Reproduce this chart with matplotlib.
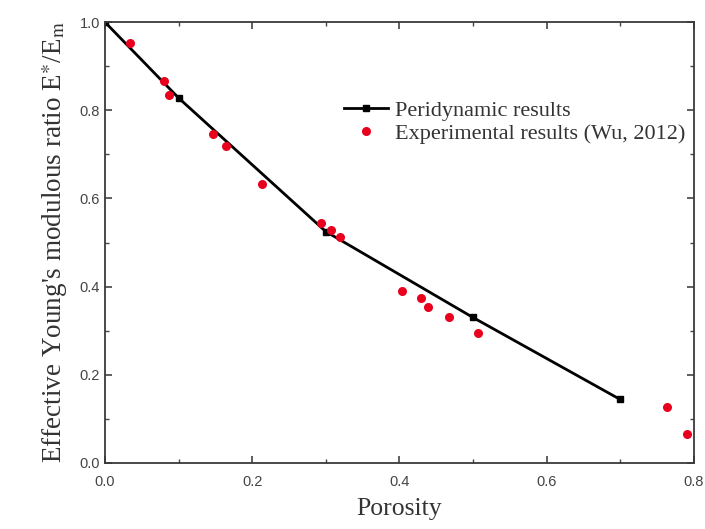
# -*- coding: utf-8 -*-
# Effective Young's modulus ratio vs porosity
import matplotlib
matplotlib.use('Agg')
import matplotlib.pyplot as plt
from matplotlib.ticker import MultipleLocator

plt.rcParams['mathtext.fontset'] = 'stix'

# peridynamic results
pd_x = [0.0, 0.1, 0.3, 0.5, 0.7]
pd_y = [1.0, 0.828, 0.525, 0.330, 0.144]

# experimental results (Wu, 2012)
exp_x = [0.034, 0.080, 0.087, 0.147, 0.164, 0.213, 0.293, 0.307, 0.319,
         0.404, 0.429, 0.439, 0.467, 0.507, 0.764, 0.791]
exp_y = [0.952, 0.866, 0.834, 0.746, 0.719, 0.633, 0.544, 0.528, 0.512,
         0.390, 0.374, 0.354, 0.331, 0.295, 0.127, 0.066]

fig = plt.figure(figsize=(7.05, 5.29), dpi=100)
ax = fig.add_axes([0.149, 0.125, 0.835, 0.833])

ax.plot(pd_x, pd_y, '-s', color='black', lw=2, ms=5, label='Peridynamic results')
ax.plot(exp_x, exp_y, 'o', color='#e8001c', ms=6.5, mec='none',
        label='Experimental results (Wu, 2012)')

ax.set_xlim(0, 0.8)
ax.set_ylim(0, 1.0)
ax.xaxis.set_major_locator(MultipleLocator(0.2))
ax.xaxis.set_minor_locator(MultipleLocator(0.1))
ax.yaxis.set_major_locator(MultipleLocator(0.2))
ax.yaxis.set_minor_locator(MultipleLocator(0.1))
ax.tick_params(which='both', direction='in', top=True, right=True,
               labelsize=10.5, labelcolor='#444444', color='#444444')
ax.tick_params(which='major', length=5, width=1.2)
ax.tick_params(which='minor', length=3, width=1)
ax.tick_params(axis='x', pad=9)
for t in ax.get_xticklabels() + ax.get_yticklabels():
    t.set_fontfamily('Liberation Sans')
for s in ax.spines.values():
    s.set_linewidth(1.3)
    s.set_color('#3a3a3a')

ax.set_xlabel('Porosity', fontsize=18.5, family='Liberation Serif',
              color='#333333', labelpad=6)
ax.set_ylabel("Effective Young's modulous ratio E$^{\\ast}$/E$_\\mathrm{m}$",
              fontsize=19.5, family='Liberation Serif', color='#333333', labelpad=8)

leg = ax.legend(loc='upper left', bbox_to_anchor=(0.372, 0.868), frameon=False,
                prop={'family': 'Liberation Serif', 'size': 16},
                handlelength=2.0, handletextpad=0.3, labelspacing=0.12)
for t in leg.get_texts():
    t.set_color('#333333')

fig.savefig('out.png', dpi=100)
